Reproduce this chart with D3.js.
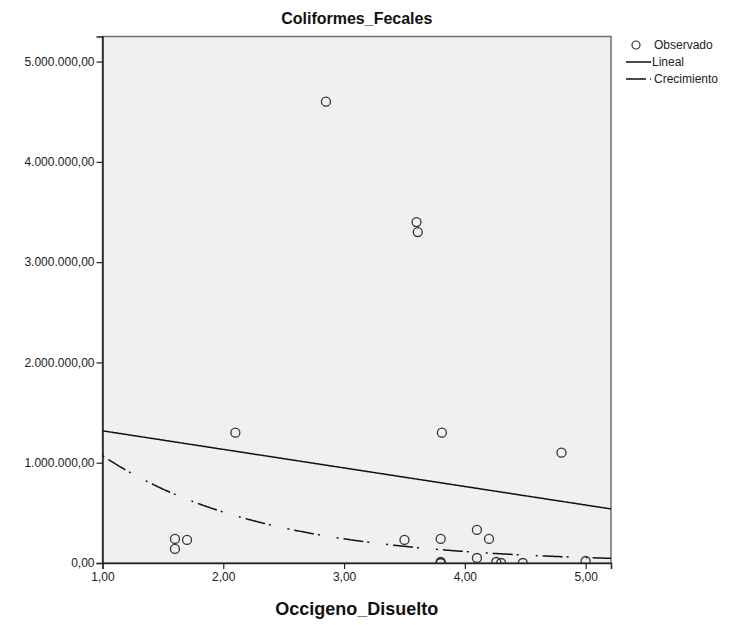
<!DOCTYPE html>
<html>
<head>
<meta charset="utf-8">
<script src="https://cdn.jsdelivr.net/npm/d3@7"></script>
<style>
  html, body { margin: 0; padding: 0; background: #ffffff; }
  svg { display: block; font-family: "Liberation Sans", Arial, sans-serif; }
</style>
</head>
<body>
<svg id="chart" width="730" height="625"></svg>
<script>
// ---- data ----
const oxigeno = [1.60, 1.60, 1.70, 2.10, 2.85, 3.50, 3.60, 3.61, 3.80, 3.80, 3.80, 3.80, 3.81, 4.10, 4.10, 4.20, 4.26, 4.30, 4.48, 4.80, 5.00];
const coliformes = [240000, 140000, 230000, 1300000, 4600000, 230000, 3400000, 3300000, 240000, 10000, 0, 0, 1300000, 330000, 50000, 240000, 10000, 0, 0, 1100000, 20000];
const linealCoef = [1503000, -185000];      // intercept, slope
const crecimientoCoef = [2254000, -0.745];  // A, b  (y = A * exp(b x))
const xTicks = [1, 2, 3, 4, 5];
const yTicks = [0, 1000000, 2000000, 3000000, 4000000, 5000000];
const xDomain = [1, 5.21];
const yDomain = [0, 5250000];
const legendLabels = ["Observado", "Lineal", "Crecimiento"];

// ---- layout ----
const svg = d3.select("#chart");
const pL = 102.5, pR = 611, pT = 36.5, pB = 563;
const locale = d3.formatLocale({ decimal: ",", thousands: ".", grouping: [3], currency: ["", ""] });
const fmt = locale.format(",.2f");

const x = d3.scaleLinear().domain(xDomain).range([pL, pR]);
const y = d3.scaleLinear().domain(yDomain).range([pB, pT]);

// plot background
svg.append("rect")
  .attr("x", pL).attr("y", pT)
  .attr("width", pR - pL).attr("height", pB - pT)
  .attr("fill", "#f0f0f0")
  .attr("stroke", "#6e6e6e").attr("stroke-width", 1.5);

svg.append("clipPath").attr("id", "clip")
  .append("rect").attr("x", pL).attr("y", pT).attr("width", pR - pL).attr("height", pB - pT);

// axes
const yAxis = svg.append("g").attr("transform", `translate(${pL},0)`)
  .call(d3.axisLeft(y).tickValues(yTicks).tickFormat(fmt).tickSize(6).tickPadding(2));
const xAxis = svg.append("g").attr("transform", `translate(0,${pB})`)
  .call(d3.axisBottom(x).tickValues(xTicks).tickFormat(fmt).tickSize(6).tickPadding(3));
[xAxis, yAxis].forEach(g => {
  g.select(".domain").attr("stroke", "#222").attr("stroke-width", 1.5);
  g.selectAll(".tick line").attr("stroke", "#222").attr("stroke-width", 1.2);
  g.selectAll(".tick text").attr("fill", "#222").style("font-size", "12px");
});

// fit lines
const xs = d3.range(xDomain[0], xDomain[1] + 0.0001, 0.01);
const lineGen = d3.line().x(d => x(d[0])).y(d => y(d[1]));
const plotG = svg.append("g").attr("clip-path", "url(#clip)");

plotG.append("path")
  .datum(xs.map(v => [v, linealCoef[0] + linealCoef[1] * v]))
  .attr("d", lineGen).attr("fill", "none")
  .attr("stroke", "#111").attr("stroke-width", 1.5);

plotG.append("path")
  .datum(xs.map(v => [v, crecimientoCoef[0] * Math.exp(crecimientoCoef[1] * v)]))
  .attr("d", lineGen).attr("fill", "none")
  .attr("stroke", "#111").attr("stroke-width", 1.5)
  .attr("stroke-dasharray", "2,5,20,4,2,17");

// points
plotG.selectAll("circle.pt")
  .data(oxigeno.map((v, i) => [v, coliformes[i]]))
  .join("circle").attr("class", "pt")
  .attr("cx", d => x(d[0])).attr("cy", d => y(d[1]))
  .attr("r", 4.5).attr("fill", "none")
  .attr("stroke", "#333").attr("stroke-width", 1.3);

// title
svg.append("text")
  .attr("x", (pL + pR) / 2).attr("y", 24)
  .attr("text-anchor", "middle")
  .style("font-size", "16px").style("font-weight", "bold").attr("fill", "#111")
  .text("Coliformes_Fecales");

// x axis title
svg.append("text")
  .attr("x", (pL + pR) / 2).attr("y", 615)
  .attr("text-anchor", "middle")
  .style("font-size", "18px").style("font-weight", "bold").attr("fill", "#111")
  .text("Occigeno_Disuelto");

// legend
const lg = svg.append("g");
lg.append("circle").attr("cx", 636).attr("cy", 45).attr("r", 4)
  .attr("fill", "none").attr("stroke", "#333").attr("stroke-width", 1.2);
lg.append("line").attr("x1", 626).attr("x2", 651).attr("y1", 62).attr("y2", 62)
  .attr("stroke", "#111").attr("stroke-width", 1.5);
lg.append("line").attr("x1", 626).attr("x2", 651).attr("y1", 79).attr("y2", 79)
  .attr("stroke", "#111").attr("stroke-width", 1.5)
  .attr("stroke-dasharray", "20,4,2,20");
const lx = [654, 652, 654], ly = [49, 66, 83];
legendLabels.forEach((t, i) => {
  lg.append("text").attr("x", lx[i]).attr("y", ly[i])
    .style("font-size", "12px").attr("fill", "#222").text(t);
});
</script>
</body>
</html>
